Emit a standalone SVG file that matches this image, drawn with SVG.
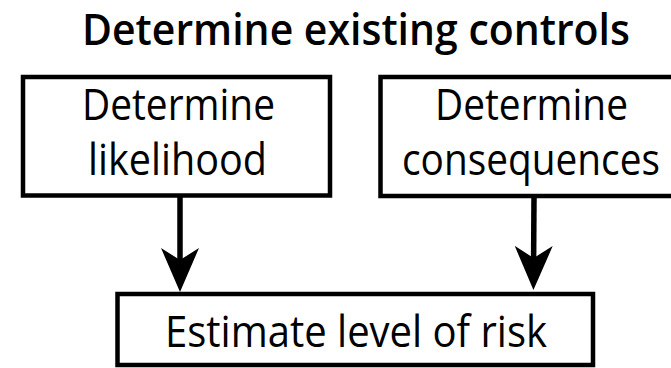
<svg xmlns="http://www.w3.org/2000/svg" width="671" height="368" viewBox="0 0 671 368">
<style>
.box{fill:#fff;stroke:#000;stroke-width:4.5}
.t{font-family:"Open Sans","Noto Sans","Liberation Sans",sans-serif;font-size:43px;fill:#000}
.title{font-weight:600}
.edge{stroke:#000;stroke-width:5.5;fill:none}
</style>
<defs>
<marker id="ah" viewBox="0 -19 44 38" refX="32" refY="0" markerWidth="44" markerHeight="38" markerUnits="userSpaceOnUse" orient="auto">
<path d="M0,-19 L44,0 L0,19 L12,0 Z" fill="#000"/>
</marker>
</defs>
<rect width="671" height="368" fill="#fff"/>
<g id="title">
<text class="t title" x="82" y="45" textLength="548" lengthAdjust="spacingAndGlyphs">Determine existing controls</text>
</g>
<g id="likelihood">
<rect class="box" x="23" y="77" width="307" height="118.5"/>
<text class="t" x="82" y="120" textLength="193" lengthAdjust="spacingAndGlyphs">Determine</text>
<text class="t" x="88" y="175" textLength="179" lengthAdjust="spacingAndGlyphs">likelihood</text>
</g>
<g id="consequences">
<rect class="box" x="380.5" y="77" width="300" height="119"/>
<text class="t" x="435" y="120" textLength="193" lengthAdjust="spacingAndGlyphs">Determine</text>
<text class="t" transform="translate(402,175) scale(1,1.1)" x="0" y="0" style="font-size:39px" textLength="258" lengthAdjust="spacingAndGlyphs">consequences</text>
</g>
<g id="risk">
<rect class="box" x="117.5" y="294" width="475.5" height="71"/>
<text class="t" x="165" y="347" textLength="382" lengthAdjust="spacingAndGlyphs">Estimate level of risk</text>
</g>
<g id="connectors">
<line class="edge" x1="180" y1="197" x2="180" y2="280" marker-end="url(#ah)"/>
<line class="edge" x1="534" y1="198" x2="533.5" y2="278" marker-end="url(#ah)"/>
</g>
</svg>
